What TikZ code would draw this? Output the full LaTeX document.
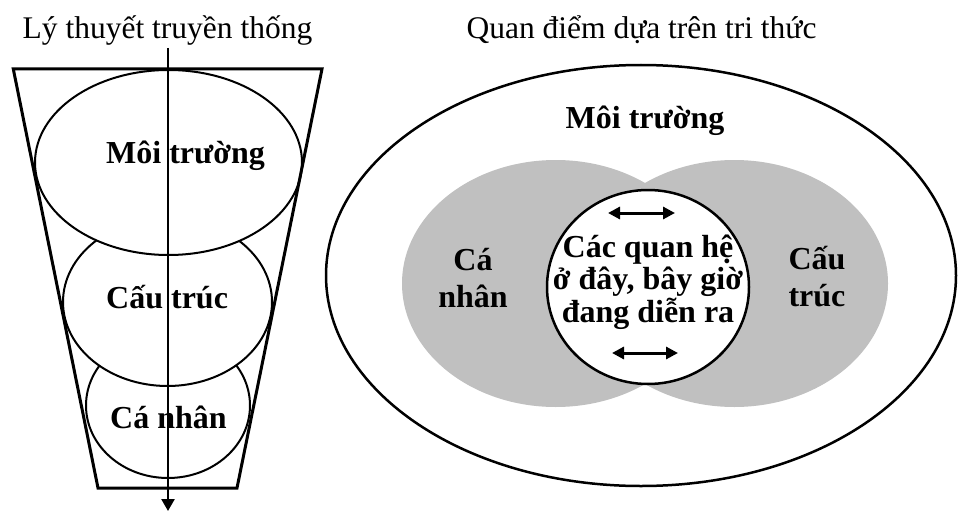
\documentclass[tikz,border=0pt]{standalone}
\usepackage{fontspec}
\setmainfont{Liberation Serif}
\usetikzlibrary{arrows.meta}
\definecolor{venngray}{RGB}{192,192,192}
\tikzset{
  lbl/.style={font=\fontsize{32}{37}\selectfont\bfseries, inner sep=0pt},
  ttl/.style={font=\fontsize{31.5}{36}\selectfont, inner sep=0pt, anchor=base},
  shapeline/.style={draw=black, line width=2pt, fill=white},
  funnel/.style={draw=black, line width=3pt, line join=miter},
  flow/.style={draw=black, line width=2.5pt, -{Triangle[width=13pt,length=12pt]}},
  dblarrow/.style={draw=black, line width=3pt, {Triangle[width=12pt,length=12pt]}-{Triangle[width=12pt,length=12pt]}},
  venn/.style={fill=venngray},
}
\begin{document}
\begin{tikzpicture}[x=1pt,y=-1pt]
\useasboundingbox (0,0) rectangle (958,511);
% ---------- left: traditional theory ----------
\node[ttl] (ltitle) at (167.5,39) {Lý thuyết truyền thống};
\draw[shapeline] (168,405.5) ellipse [x radius=82pt, y radius=72.5pt];
\draw[shapeline] (167.5,302) ellipse [x radius=104.5pt, y radius=84pt];
\draw[shapeline] (168.5,162.5) ellipse [x radius=133.5pt, y radius=92.5pt];
\begin{scope}
  \clip (0,100) rectangle (265,200);
  \node[lbl, anchor=base west] (lenv) at (106,163) {Môi trường};
\end{scope}
\node[lbl, anchor=base west] (lstr) at (106,308) {Cấu trúc};
\node[lbl, anchor=base west] (lind) at (110,428) {Cá nhân};
\draw[funnel] (13.3,69) -- (322,69) -- (237,488) -- (98,488) -- cycle;
\coordinate (atop) at (168,48);
\coordinate (abot) at (168,511);
\draw[flow] (atop) -- (abot);
% ---------- right: knowledge-based view ----------
\node[ttl] (rtitle) at (641.5,38) {Quan điểm dựa trên tri thức};
\draw[shapeline, line width=2.5pt] (641,275.5) ellipse [x radius=315pt, y radius=210.5pt];
\fill[venn] (555.7,283.5) ellipse [x radius=153.7pt, y radius=123.5pt];
\fill[venn] (734.3,283.5) ellipse [x radius=153.7pt, y radius=123.5pt];
\draw[shapeline, line width=2.5pt] (648,287) ellipse [x radius=101pt, y radius=97pt];
\node[lbl, anchor=base] (renv) at (645,128) {Môi trường};
\node[lbl, anchor=base, align=center] (rind) at (473,307) {Cá\\nhân};
\node[lbl, anchor=base, align=center] (rstr) at (817,306) {Cấu\\trúc};
\node[lbl, anchor=base, align=center, font=\fontsize{32}{32.5}\selectfont\bfseries] (rrel) at (648,322) {Các quan hệ\\ở đây, bây giờ\\đang diễn ra};
\coordinate (ua1) at (608,213);
\coordinate (ua2) at (675,213);
\coordinate (la1) at (612,353);
\coordinate (la2) at (678,353);
\draw[dblarrow] (ua1) -- (ua2);
\draw[dblarrow] (la1) -- (la2);
\end{tikzpicture}
\end{document}
